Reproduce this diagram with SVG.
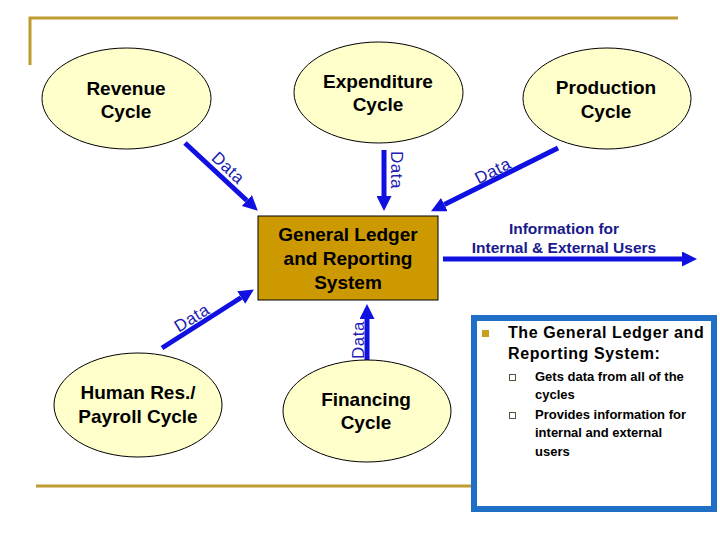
<svg xmlns="http://www.w3.org/2000/svg" width="720" height="540" viewBox="0 0 720 540">
<style>
.frame{stroke:#BF9B30;stroke-width:3;fill:none}
.ell{fill:#FFFFCC;stroke:#000;stroke-width:1}
.nt{font-family:"Liberation Sans",Arial,sans-serif;font-weight:bold;font-size:19px;fill:#000;text-anchor:middle}
.gl{fill:#CC9900;stroke:#000;stroke-width:1}
.arr{stroke:#1010E0;stroke-width:5;fill:none}
.lbl{font-family:"Liberation Sans",Arial,sans-serif;font-size:17px;letter-spacing:0.5px;fill:#2020B0;text-anchor:middle;dominant-baseline:central}
.info{font-family:"Liberation Sans",Arial,sans-serif;font-weight:bold;font-size:15.5px;fill:#1A1A8C;text-anchor:middle}
.bt{font-family:"Liberation Sans",Arial,sans-serif;font-weight:bold;font-size:16px;letter-spacing:0.6px;fill:#000}
.st{font-family:"Liberation Sans",Arial,sans-serif;font-weight:bold;font-size:13px;fill:#000}
</style>
<defs>
<marker id="ah" markerUnits="userSpaceOnUse" markerWidth="15" markerHeight="15" viewBox="0 0 14 14" refX="0" refY="7" orient="auto">
<path d="M0,0 L14,7 L0,14 z" fill="#1010E0"/>
</marker>
</defs>
<rect width="720" height="540" fill="#fff"/>
<g id="frame">
<polyline class="frame" points="30,65 30,18 678,18"/>
<line class="frame" x1="36" y1="486" x2="472" y2="486"/>
</g>
<g id="connectors">
<line class="arr" x1="185" y1="143" x2="246.8" y2="200.5" marker-end="url(#ah)"/>
<line class="arr" x1="384" y1="150" x2="384" y2="196" marker-end="url(#ah)"/>
<line class="arr" x1="558" y1="148" x2="444.4" y2="204.6" marker-end="url(#ah)"/>
<line class="arr" x1="162" y1="348" x2="241.2" y2="297.5" marker-end="url(#ah)"/>
<line class="arr" x1="367" y1="360" x2="367" y2="319" marker-end="url(#ah)"/>
<line class="arr" x1="443" y1="259" x2="682" y2="259" marker-end="url(#ah)"/>
<text class="lbl" transform="translate(228,168) rotate(43)">Data</text>
<text class="lbl" transform="translate(396,170) rotate(90)">Data</text>
<text class="lbl" transform="translate(493,171) rotate(-27)">Data</text>
<text class="lbl" transform="translate(192,318) rotate(-32)">Data</text>
<text class="lbl" transform="translate(358,340) rotate(-90)">Data</text>
<text class="info" x="564" y="234">Information for</text>
<text class="info" x="564" y="253">Internal &amp; External Users</text>
</g>
<g id="revenue">
<ellipse class="ell" cx="126.5" cy="98.5" rx="84.5" ry="50.5"/>
<text class="nt" x="126" y="95">Revenue</text>
<text class="nt" x="126" y="118">Cycle</text>
</g>
<g id="expenditure">
<ellipse class="ell" cx="378.5" cy="92.5" rx="84.5" ry="50.5"/>
<text class="nt" x="378" y="88">Expenditure</text>
<text class="nt" x="378" y="111">Cycle</text>
</g>
<g id="production">
<ellipse class="ell" cx="607" cy="98.5" rx="84" ry="50.5"/>
<text class="nt" x="606" y="94">Production</text>
<text class="nt" x="606" y="118">Cycle</text>
</g>
<g id="gl">
<rect class="gl" x="258" y="216" width="180" height="84"/>
<text class="nt" x="348" y="241">General Ledger</text>
<text class="nt" x="348" y="265">and Reporting</text>
<text class="nt" x="348" y="289">System</text>
</g>
<g id="hr">
<ellipse class="ell" cx="138" cy="405" rx="84" ry="52"/>
<text class="nt" x="138" y="399">Human Res./</text>
<text class="nt" x="138" y="423">Payroll Cycle</text>
</g>
<g id="financing">
<ellipse class="ell" cx="367" cy="411" rx="84" ry="51"/>
<text class="nt" x="366" y="406">Financing</text>
<text class="nt" x="366" y="429">Cycle</text>
</g>
<g id="notes">
<rect x="474" y="318" width="240" height="191" fill="#fff" stroke="#1F6FC6" stroke-width="6"/>
<rect x="482" y="330" width="7" height="7" fill="#C8A020"/>
<text class="bt" x="508" y="338">The General Ledger and</text>
<text class="bt" x="508" y="359">Reporting System:</text>
<rect x="509.5" y="374.5" width="6" height="6" fill="#fff" stroke="#4A5A3A" stroke-width="1"/>
<text class="st" x="535" y="381">Gets data from all of the</text>
<text class="st" x="535" y="399">cycles</text>
<rect x="509.5" y="412.5" width="6" height="6" fill="#fff" stroke="#4A5A3A" stroke-width="1"/>
<text class="st" x="535" y="419">Provides information for</text>
<text class="st" x="535" y="437">internal and external</text>
<text class="st" x="535" y="456">users</text>
</g>
</svg>
